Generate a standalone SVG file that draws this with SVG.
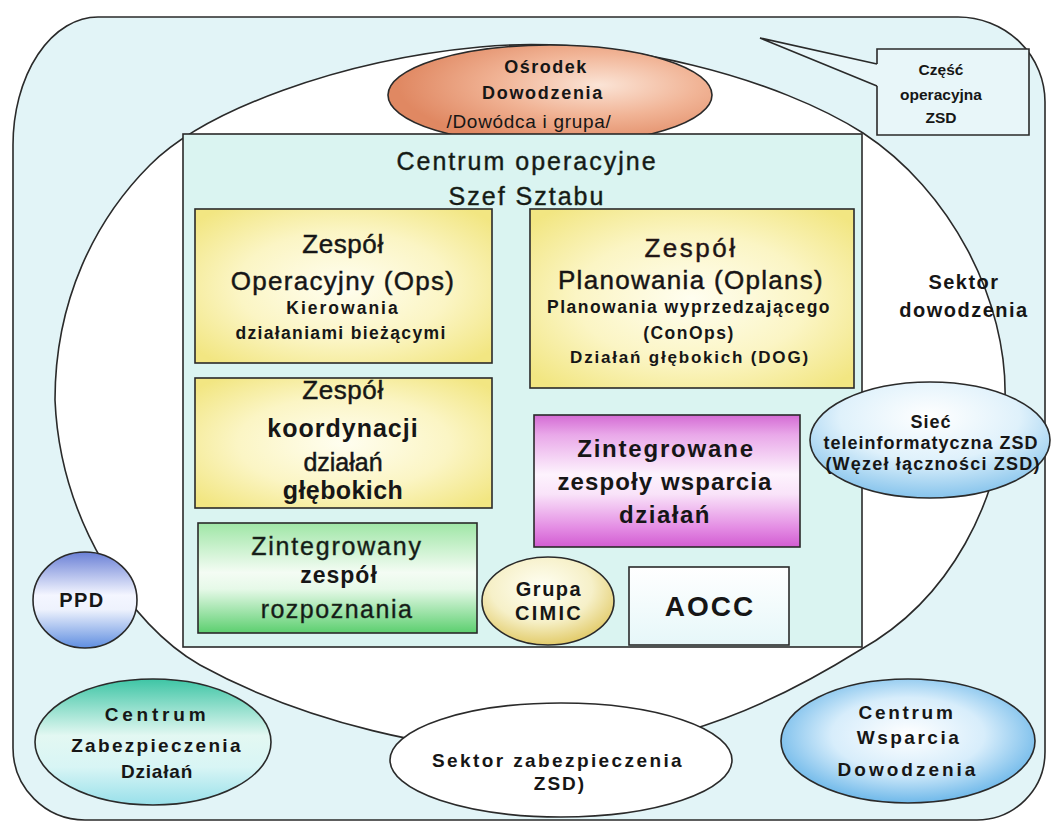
<svg xmlns="http://www.w3.org/2000/svg" width="1057" height="823" viewBox="0 0 1057 823">
  <defs>
    <style>
      .t { font-family: "Liberation Sans", Arial, sans-serif; text-anchor: middle; fill: #161616; }
      .b { font-weight: bold; }
      .m { stroke-width: 0.45; }
      .ln { fill: none; stroke: #2a2a2a; stroke-width: 1.6; }
      .box { stroke: #2a2a2a; stroke-width: 1.6; }
    </style>
    <radialGradient id="gYellow" cx="50%" cy="50%" r="65%">
      <stop offset="0" stop-color="#fffef0"/>
      <stop offset="0.55" stop-color="#fbf5c4"/>
      <stop offset="1" stop-color="#f2e682"/>
    </radialGradient>
    <linearGradient id="gMagenta" x1="0" y1="0" x2="0" y2="1">
      <stop offset="0" stop-color="#d46bd4"/>
      <stop offset="0.15" stop-color="#e9a8e9"/>
      <stop offset="0.45" stop-color="#fdf3fd"/>
      <stop offset="0.6" stop-color="#f9e3f9"/>
      <stop offset="0.85" stop-color="#e48ee4"/>
      <stop offset="1" stop-color="#d25cd2"/>
    </linearGradient>
    <linearGradient id="gGreen" x1="0" y1="0" x2="0" y2="1">
      <stop offset="0" stop-color="#9fe6a6"/>
      <stop offset="0.45" stop-color="#f4fcf4"/>
      <stop offset="0.6" stop-color="#e6f9e8"/>
      <stop offset="1" stop-color="#5ccf6f"/>
    </linearGradient>
    <radialGradient id="gCimic" cx="45%" cy="35%" r="70%">
      <stop offset="0" stop-color="#fffff4"/>
      <stop offset="0.55" stop-color="#f6f0c8"/>
      <stop offset="1" stop-color="#dfc55a"/>
    </radialGradient>
    <linearGradient id="gAocc" x1="0" y1="0" x2="0" y2="1">
      <stop offset="0" stop-color="#ffffff"/>
      <stop offset="1" stop-color="#e6f7f9"/>
    </linearGradient>
    <radialGradient id="gOsrodek" cx="65%" cy="40%" r="62%">
      <stop offset="0" stop-color="#fbe4d6"/>
      <stop offset="0.5" stop-color="#f1b496"/>
      <stop offset="1" stop-color="#e08862"/>
    </radialGradient>
    <radialGradient id="gSiec" cx="50%" cy="30%" r="75%">
      <stop offset="0" stop-color="#ffffff"/>
      <stop offset="0.5" stop-color="#dff1fb"/>
      <stop offset="1" stop-color="#79bdea"/>
    </radialGradient>
    <linearGradient id="gPpd" x1="0" y1="0" x2="0" y2="1">
      <stop offset="0" stop-color="#6a80d6"/>
      <stop offset="0.45" stop-color="#f4f6ff"/>
      <stop offset="0.6" stop-color="#eef2fd"/>
      <stop offset="1" stop-color="#5f8ee0"/>
    </linearGradient>
    <linearGradient id="gZab" x1="0" y1="0" x2="0" y2="1">
      <stop offset="0" stop-color="#3ec5a5"/>
      <stop offset="0.45" stop-color="#e3f8f2"/>
      <stop offset="0.7" stop-color="#d8f5f5"/>
      <stop offset="1" stop-color="#98e0ea"/>
    </linearGradient>
    <radialGradient id="gWsp" cx="50%" cy="45%" r="60%">
      <stop offset="0" stop-color="#ffffff"/>
      <stop offset="0.5" stop-color="#d7edfb"/>
      <stop offset="1" stop-color="#5aaee6"/>
    </radialGradient>
  </defs>

  <!-- operational part of the command post: outer rounded frame -->
  <g id="czesc-operacyjna-obszar">
    <path class="box" fill="#e2f4f7" d="M98,17 H958 A87,85 0 0 1 1045,102 V752 A68,68 0 0 1 977,820 H85 A72,72 0 0 1 13,748 V145 A85,128 0 0 1 98,17 Z"/>
  </g>

  <!-- command sector: large white region -->
  <g id="sektor-dowodzenia">
    <path class="box" fill="#ffffff" d="M55,400 C55,300 95,220 150,165 C205,110 340,60 480,47 C620,34 780,80 863,133 C950,190 1008,300 1005,400 C1002,500 950,600 860,650 C780,700 680,748 560,752 C440,756 300,720 200,665 C130,625 60,520 55,400 Z"/>
    <text class="t b" x="964" y="289" font-size="20" letter-spacing="1.5">Sektor</text>
    <text class="t b" x="964" y="317" font-size="20" letter-spacing="1.5">dowodzenia</text>
  </g>

  <!-- callout label -->
  <g id="czesc-operacyjna">
    <path fill="#e8f6f9" d="M877,49 H1029 V135 H877 V86 L760,38 L877,64 Z"/>
    <path class="ln" d="M877,64 V49 H1029 V135 H877 V86"/>
    <text class="t b" x="941" y="75" font-size="15.5">Część</text>
    <text class="t b" x="941" y="100" font-size="15.5">operacyjna</text>
    <text class="t b" x="941" y="123" font-size="15.5">ZSD</text>
  </g>

  <g id="connectors">
    <path class="ln" d="M877,86 L760,38 L877,64"/>
  </g>

  <!-- command centre ellipse -->
  <g id="osrodek-dowodzenia">
    <ellipse class="box" cx="550" cy="95" rx="162" ry="50" fill="url(#gOsrodek)"/>
    <text class="t b" x="546" y="73" font-size="18" letter-spacing="1.5" fill="#5a1a10">Ośrodek</text>
    <text class="t b" x="543" y="99" font-size="18" letter-spacing="1.7" fill="#1a1010">Dowodzenia</text>
    <text class="t" x="529" y="128" font-size="19" letter-spacing="0.7" fill="#8a4a3a">/Dowódca i grupa/</text>
  </g>

  <!-- operations centre -->
  <g id="centrum-operacyjne">
    <rect class="box" x="183" y="134" width="679" height="513" fill="#daf4f1"/>
    <text class="t m" x="527" y="170" font-size="25" letter-spacing="2" fill="#1d3320" stroke="#1d3320">Centrum operacyjne</text>
    <text class="t m" x="527" y="205" font-size="25" letter-spacing="2" fill="#1d3320" stroke="#1d3320">Szef Sztabu</text>
  </g>

  <g id="zespol-operacyjny">
    <rect class="box" x="195" y="209" width="297" height="154" fill="url(#gYellow)"/>
    <text class="t m" x="343" y="253" font-size="26" letter-spacing="0.6" stroke="#161616">Zespół</text>
    <text class="t m" x="343" y="290" font-size="26" letter-spacing="1.3" stroke="#161616">Operacyjny (Ops)</text>
    <text class="t b" x="343" y="314" font-size="17.5" letter-spacing="2">Kierowania</text>
    <text class="t b" x="341" y="339" font-size="17.5" letter-spacing="1.35">działaniami bieżącymi</text>
  </g>

  <g id="zespol-planowania">
    <rect class="box" x="530" y="209" width="324" height="179" fill="url(#gYellow)"/>
    <text class="t m" x="691" y="257" font-size="26" letter-spacing="2.5" fill="#3a1818" stroke="#3a1818">Zespół</text>
    <text class="t m" x="691" y="289" font-size="26" letter-spacing="1.3" fill="#1a1010" stroke="#1a1010">Planowania (Oplans)</text>
    <text class="t b" x="689" y="313" font-size="17.5" letter-spacing="1.5">Planowania wyprzedzającego</text>
    <text class="t b" x="689" y="339" font-size="17.5" letter-spacing="1.5">(ConOps)</text>
    <text class="t b" x="690" y="363" font-size="17" letter-spacing="1.8" fill="#4a1515">Działań głębokich (DOG)</text>
  </g>

  <g id="zespol-koordynacji">
    <rect class="box" x="195" y="378" width="297" height="130" fill="url(#gYellow)"/>
    <text class="t m" x="343" y="399" font-size="26" letter-spacing="0.6" stroke="#161616">Zespół</text>
    <text class="t b" x="343" y="437" font-size="25" letter-spacing="1">koordynacji</text>
    <text class="t m" x="343" y="471" font-size="25" stroke="#161616">działań</text>
    <text class="t b" x="343" y="499" font-size="25" letter-spacing="0.4">głębokich</text>
  </g>

  <g id="zespoly-wsparcia">
    <rect class="box" x="534" y="415" width="266" height="132" fill="url(#gMagenta)"/>
    <text class="t b" x="666" y="457" font-size="24" letter-spacing="1.8" fill="#3b1850">Zintegrowane</text>
    <text class="t b" x="665" y="490" font-size="24" letter-spacing="1.1">zespoły wsparcia</text>
    <text class="t b" x="665" y="523" font-size="24" letter-spacing="1.5" fill="#3b1850">działań</text>
  </g>

  <g id="zespol-rozpoznania">
    <rect class="box" x="198" y="523" width="279" height="110" fill="url(#gGreen)"/>
    <text class="t m" x="337" y="555" font-size="25" letter-spacing="1.8" fill="#233d28" stroke="#233d28">Zintegrowany</text>
    <text class="t b" x="339" y="583" font-size="23" letter-spacing="1">zespół</text>
    <text class="t m" x="337" y="618" font-size="25" letter-spacing="1.5" fill="#233d28" stroke="#233d28">rozpoznania</text>
  </g>

  <g id="grupa-cimic">
    <ellipse class="box" cx="548" cy="601" rx="66" ry="44" fill="url(#gCimic)"/>
    <text class="t b" x="549" y="596" font-size="20" letter-spacing="1.5">Grupa</text>
    <text class="t b" x="549" y="620" font-size="20" letter-spacing="2.3">CIMIC</text>
  </g>

  <g id="aocc">
    <rect class="box" x="629" y="567" width="160" height="78" fill="url(#gAocc)"/>
    <text class="t b" x="710" y="616" font-size="28" letter-spacing="2">AOCC</text>
  </g>

  <!-- outer sector nodes -->
  <g id="siec-teleinformatyczna">
    <ellipse class="box" cx="930" cy="440" rx="120" ry="58" fill="url(#gSiec)"/>
    <text class="t b" x="931" y="428" font-size="18" letter-spacing="1" fill="#1a1f4a">Sieć</text>
    <text class="t b" x="931" y="449" font-size="18" letter-spacing="1" fill="#1a1f4a">teleinformatyczna ZSD</text>
    <text class="t b" x="933" y="470" font-size="18" letter-spacing="1.2" fill="#1a1f4a">(Węzeł łączności ZSD)</text>
  </g>

  <g id="ppd">
    <ellipse class="box" cx="85" cy="600" rx="52" ry="48" fill="url(#gPpd)"/>
    <text class="t b" x="82" y="607" font-size="20" letter-spacing="1.5">PPD</text>
  </g>

  <g id="centrum-zabezpieczenia">
    <ellipse class="box" cx="153" cy="742" rx="118" ry="63" fill="url(#gZab)"/>
    <text class="t b" x="157" y="721" font-size="19" letter-spacing="3.8" fill="#1a2a2a">Centrum</text>
    <text class="t b" x="157" y="752" font-size="19" letter-spacing="2.3" fill="#1a2a2a">Zabezpieczenia</text>
    <text class="t b" x="157" y="778" font-size="19" letter-spacing="0.8" fill="#1a2a2a">Działań</text>
  </g>

  <g id="sektor-zabezpieczenia">
    <ellipse class="box" cx="561" cy="760" rx="171" ry="57" fill="#ffffff"/>
    <text class="t b" x="558" y="767" font-size="19" letter-spacing="2.4">Sektor zabezpieczenia</text>
    <text class="t b" x="560" y="790" font-size="19" letter-spacing="2">ZSD)</text>
  </g>

  <g id="centrum-wsparcia">
    <ellipse class="box" cx="908" cy="741" rx="127" ry="62" fill="url(#gWsp)"/>
    <text class="t b" x="907" y="719" font-size="19" letter-spacing="2.7" fill="#1a1d4a">Centrum</text>
    <text class="t b" x="909" y="744" font-size="19" letter-spacing="2.5" fill="#1a1d4a">Wsparcia</text>
    <text class="t b" x="908" y="776" font-size="19" letter-spacing="3" fill="#1a1d4a">Dowodzenia</text>
  </g>
</svg>
